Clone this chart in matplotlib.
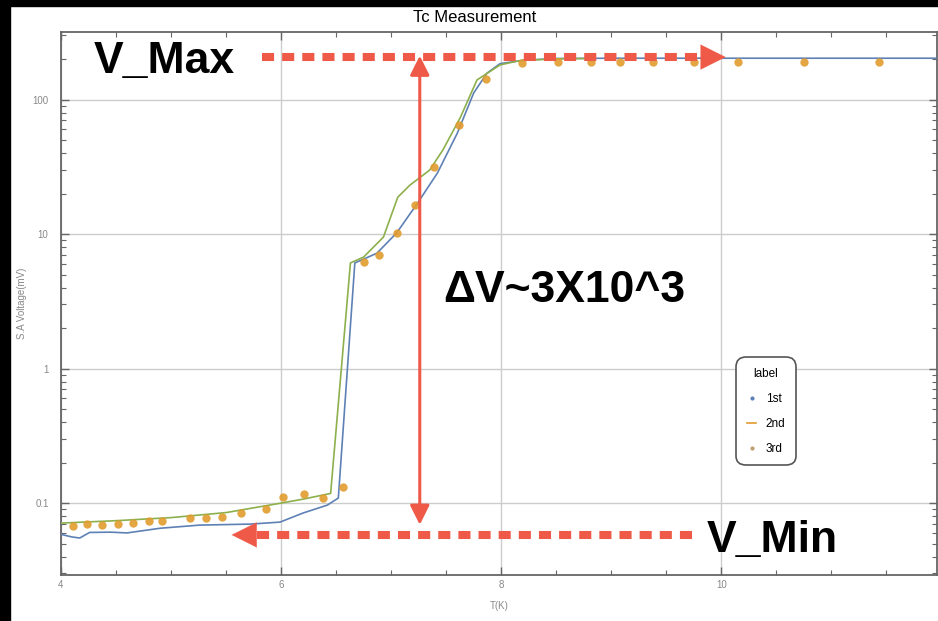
import matplotlib.pyplot as plt
from matplotlib.lines import Line2D
from matplotlib.patches import Rectangle
from matplotlib.ticker import FixedLocator, NullFormatter, LogLocator

plt.rcParams['font.family'] = ['Liberation Sans', 'DejaVu Sans']

# 1st run (blue line)
t1 = [4.0, 4.02, 4.1, 4.17, 4.26, 4.45, 4.6, 4.9, 5.26, 5.72, 5.99, 6.2, 6.42, 6.52,
      6.67, 6.87, 7.05, 7.24, 7.42, 7.6, 7.75, 7.87, 7.99, 8.2, 8.5, 9.0, 12.0]
v1 = [0.059, 0.058, 0.056, 0.055, 0.0605, 0.0608, 0.060, 0.065, 0.0686, 0.0698, 0.0722,
      0.0844, 0.0966, 0.109, 6.1, 7.2, 10.2, 17.0, 28.4, 56.0, 112.0, 157.0, 185.0,
      196.0, 202.0, 203.0, 203.0]

# 2nd run (green line)
t2 = [4.0, 4.5, 5.0, 5.5, 6.0, 6.2, 6.45, 6.63, 6.75, 6.93, 7.06, 7.17, 7.35, 7.47,
      7.63, 7.78, 7.99, 8.17, 8.5, 8.8]
v2 = [0.071, 0.074, 0.078, 0.085, 0.1, 0.107, 0.118, 6.1, 6.75, 9.5, 18.8, 23.1, 29.9,
      42.2, 74.0, 140.0, 181.0, 195.0, 201.0, 202.0]

# 3rd run (orange dots)
t3 = [4.11, 4.24, 4.37, 4.52, 4.65, 4.8, 4.92, 5.17, 5.32, 5.46, 5.64, 5.86, 6.02, 6.21,
      6.38, 6.56, 6.75, 6.89, 7.05, 7.22, 7.39, 7.62, 7.86, 8.19, 8.52, 8.82, 9.08, 9.38,
      9.75, 10.15, 10.75, 11.43]
v3 = [0.0675, 0.0698, 0.0686, 0.0698, 0.071, 0.0735, 0.0735, 0.077, 0.077, 0.0787,
      0.0844, 0.090, 0.111, 0.117, 0.109, 0.131, 6.2, 7.0, 10.2, 16.4, 31.5, 64.6, 142.0,
      187.0, 190.0, 190.0, 190.0, 190.0, 190.0, 190.0, 190.0, 190.0]

x_ticks = [4, 6, 8, 10, 12]
y_ticks = [0.1, 1, 10, 100]
y_ticklabels = ['0.1', '1', '10', '100']

# annotation levels
v_max, v_min = 207, 0.058
t_delta = 7.26

red = '#EF5A48'
blue = '#5E81B5'
green = '#8DB04C'
orange = '#E29B2E'

fig = plt.figure(figsize=(9.38, 6.21), dpi=100)
fig.patches.append(Rectangle((0, 1 - 6 / 621), 1, 6 / 621, transform=fig.transFigure,
                             color='black', zorder=0))
fig.patches.append(Rectangle((0, 0), 10 / 938, 1, transform=fig.transFigure,
                             color='black', zorder=0))

ax = fig.add_axes([61 / 938, 46 / 621, 876 / 938, 543 / 621])
ax.set_yscale('log')
ax.set_xlim(4, 11.96)
ax.set_ylim(0.0292, 318)

ax.plot(t1, v1, color=blue, lw=1.2, zorder=3)
ax.plot(t2, v2, color=green, lw=1.2, zorder=3)
ax.plot(t3, v3, 'o', color=orange, ms=6, mec='none', alpha=0.9, zorder=4)

# grid / frame in Mathematica style
ax.xaxis.set_major_locator(FixedLocator(x_ticks))
ax.xaxis.set_minor_locator(FixedLocator([x / 2 for x in range(8, 25)]))
ax.yaxis.set_major_locator(FixedLocator(y_ticks))
ax.yaxis.set_minor_locator(LogLocator(base=10, subs=range(2, 10)))
ax.set_yticklabels(y_ticklabels)
ax.yaxis.set_minor_formatter(NullFormatter())
ax.grid(True, which='major', color='#cccccc', lw=1.0)
ax.tick_params(which='both', direction='in', top=True, right=True, colors='#666666',
               labelcolor='#888888', labelsize=7)
ax.tick_params(which='major', length=6, width=1)
ax.tick_params(which='minor', length=3.5, width=0.8)
ax.tick_params(axis='y', pad=9)
for s in ax.spines.values():
    s.set_color('#666666')
    s.set_linewidth(1.3)
ax.set_xlabel('T(K)', fontsize=7, color='#888888', labelpad=8)
ax.set_ylabel('S.A Voltage(mV)', fontsize=7, color='#888888', labelpad=4)

fig.text(475 / 938, 1 - 18 / 621, 'Tc Measurement', ha='center', va='center', fontsize=12)

# dashed arrows
dash = dict(color=red, lw=5.8, linestyle=(0, (1.5, 1.0)), solid_capstyle='butt',
            dash_capstyle='butt', zorder=5)
ax.plot([5.83, 9.84], [v_max, v_max], **dash)
ax.annotate('', xy=(10.04, v_max), xytext=(9.7, v_max),
            arrowprops=dict(arrowstyle='-|>,head_length=1.0,head_width=0.5', mutation_scale=18,
                            color=red, lw=0.1, shrinkA=0, shrinkB=0), zorder=5)
ax.plot([5.78, 9.81], [v_min, v_min], **dash)
ax.annotate('', xy=(5.55, v_min), xytext=(5.9, v_min),
            arrowprops=dict(arrowstyle='-|>,head_length=1.0,head_width=0.5', mutation_scale=18,
                            color=red, lw=0.1, shrinkA=0, shrinkB=0), zorder=5)

# vertical double arrow
ax.annotate('', xy=(t_delta, 212), xytext=(t_delta, 0.069),
            arrowprops=dict(arrowstyle='<|-|>,head_length=0.9,head_width=0.45', mutation_scale=13,
                            color=red, lw=2.2, shrinkA=0, shrinkB=0), zorder=5)

ax.text(4.94, 193, 'V_Max', fontsize=32, fontweight='bold', ha='center', va='center', zorder=6)
ax.text(10.46, 0.053, 'V_Min', fontsize=32, fontweight='bold', ha='center', va='center', zorder=6)
ax.text(8.57, 3.8, 'ΔV~3X10^3', fontsize=32, fontweight='bold', ha='center', va='center', zorder=6)

handles = [Line2D([], [], color=blue, marker='.', ls='none', ms=4),
           Line2D([], [], color=orange, lw=1.2),
           Line2D([], [], color='#c0a070', marker='.', ls='none', ms=4)]
leg = ax.legend(handles, ['1st', '2nd', '3rd'], title='label', loc='upper left',
                bbox_to_anchor=(0.764, 0.412), fontsize=8.5, title_fontsize=8.5,
                handlelength=0.8, labelspacing=1.1, borderpad=0.9, fancybox=True,
                edgecolor='#555555', framealpha=1)
leg.get_frame().set_linewidth(1.2)
leg.get_frame().set_boxstyle('round', pad=0.0, rounding_size=0.8)

fig.savefig('out.png', dpi=100)
